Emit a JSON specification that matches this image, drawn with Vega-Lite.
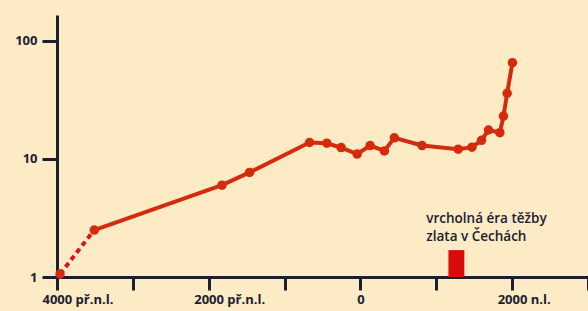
{
  "$schema": "https://vega.github.io/schema/vega-lite/v6.json",
  "autosize": "none",
  "width": 531,
  "height": 262,
  "padding": {"left": 57, "top": 15, "right": 0, "bottom": 34},
  "background": "#fdebc6",
  "config": {"view": {"stroke": null}, "font": "Open Sans"},
  "datasets": {
    "growth": [
      {"year": -3960, "value": 1.06},
      {"year": -3509, "value": 2.5},
      {"year": -1825, "value": 6.0},
      {"year": -1461, "value": 7.7},
      {"year": -671, "value": 13.8},
      {"year": -443, "value": 13.6},
      {"year": -254, "value": 12.5},
      {"year": -43, "value": 11.0},
      {"year": 128, "value": 13.0},
      {"year": 316, "value": 11.7},
      {"year": 447, "value": 15.1},
      {"year": 812, "value": 13.0},
      {"year": 1289, "value": 12.1},
      {"year": 1470, "value": 12.6},
      {"year": 1596, "value": 14.4},
      {"year": 1688, "value": 17.6},
      {"year": 1838, "value": 16.7},
      {"year": 1886, "value": 23.1},
      {"year": 1934, "value": 36.0},
      {"year": 2004, "value": 65.5}
    ],
    "era": [{"start": 1160, "end": 1370, "low": 1, "high": 1.69}],
    "note": [{"year": 868, "value": 3.55, "label": "vrcholná éra těžby\nzlata v Čechách"}]
  },
  "layer": [
    {
      "data": {"name": "era"},
      "mark": {"type": "rect", "color": "#dc0b0b"},
      "encoding": {
        "x": {"field": "start", "type": "quantitative", "scale": {"domain": [-4000, 3000], "nice": false, "zero": false},
          "axis": {
            "values": [-4000, -3000, -2000, -1000, 0, 1000, 2000, 3000],
            "title": null,
            "grid": false,
            "domainColor": "#1b2030", "domainWidth": 3,
            "tickColor": "#1b2030", "tickWidth": 3, "tickSize": 13,
            "labelColor": "#1b2030", "labelFontSize": 13, "labelFontWeight": "bold",
            "labelPadding": 3,
            "labelExpr": "datum.value == -4000 ? '4000 př.n.l.' : datum.value == -2000 ? '2000 př.n.l.' : datum.value == 0 ? '0' : datum.value == 2000 ? '2000 n.l.' : ''",
            "labelAlign": {"condition": {"test": "datum.value == 0", "value": "center"}, "value": "left"},
            "labelOffset": {"condition": {"test": "datum.value == 0", "value": 0}, "value": -15},
            "labelOverlap": false,
            "labelBound": false,
            "labelFlush": false
          }},
        "x2": {"field": "end"},
        "y": {"field": "low", "type": "quantitative", "scale": {"type": "log", "domain": [1, 166], "nice": false},
          "axis": {
            "values": [1, 10, 100],
            "title": null,
            "grid": false,
            "domainColor": "#1b2030", "domainWidth": 3,
            "tickColor": "#1b2030", "tickWidth": 3, "tickSize": 15,
            "labelColor": "#1b2030", "labelFontSize": 13, "labelFontWeight": "bold",
            "labelPadding": 5,
            "labelFlush": false
          }},
        "y2": {"field": "high"}
      }
    },
    {
      "data": {"name": "growth"},
      "transform": [{"filter": "datum.year <= -3500"}],
      "mark": {"type": "line", "color": "#d7151a", "strokeWidth": 4, "strokeDash": [5, 4]},
      "encoding": {
        "x": {"field": "year", "type": "quantitative"},
        "y": {"field": "value", "type": "quantitative"}
      }
    },
    {
      "data": {"name": "growth"},
      "transform": [{"filter": "datum.year >= -3510"}],
      "mark": {"type": "line", "color": "#d52a0c", "strokeWidth": 4},
      "encoding": {
        "x": {"field": "year", "type": "quantitative"},
        "y": {"field": "value", "type": "quantitative"}
      }
    },
    {
      "data": {"name": "growth"},
      "mark": {"type": "point", "filled": true, "opacity": 1, "color": "#d52a0c", "size": 90},
      "encoding": {
        "x": {"field": "year", "type": "quantitative"},
        "y": {"field": "value", "type": "quantitative"}
      }
    },
    {
      "data": {"name": "note"},
      "mark": {"type": "text", "align": "left", "baseline": "top", "fontSize": 13.5, "fontWeight": 600, "color": "#1b2030", "lineBreak": "\n", "lineHeight": 18},
      "encoding": {
        "x": {"field": "year", "type": "quantitative"},
        "y": {"field": "value", "type": "quantitative"},
        "text": {"field": "label"}
      }
    }
  ]
}
